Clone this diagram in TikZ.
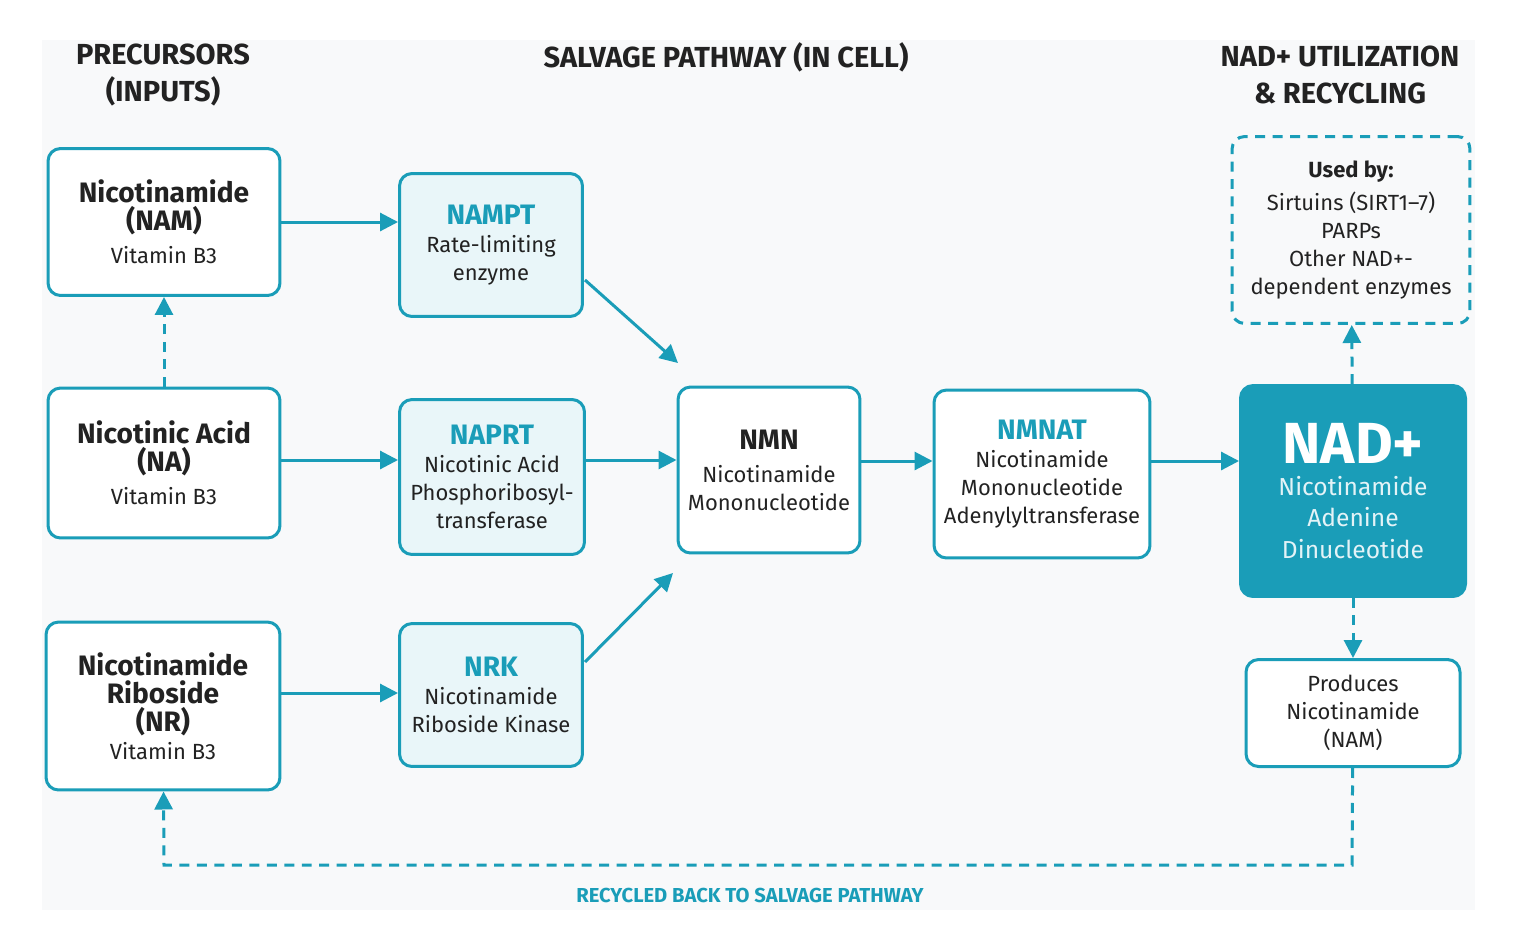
\documentclass[tikz,border=0pt]{standalone}
\usepackage{fontspec}
\setmainfont{Fira Sans}
\usetikzlibrary{arrows.meta}
\definecolor{teal1}{HTML}{1A9DB8}
\definecolor{tealbg}{HTML}{E9F6F9}
\definecolor{panel}{HTML}{F8F9FA}
\definecolor{ink}{HTML}{222222}
\newcommand{\ttl}[1]{\textbf{\fontsize{16}{20}\selectfont #1}}
\newcommand{\ttt}[1]{\textbf{\fontsize{16}{22}\selectfont\color{teal1}#1}}
\tikzset{
	box/.style={draw=teal1,line width=0.6mm,rounded corners=2.5mm,align=center,inner sep=0,text=ink,font=\fontsize{12.5}{16}\selectfont},
	enz/.style={box,fill=tealbg},
	src/.style={box,fill=white},
	arr/.style={-{Triangle[length=3.6mm,width=3.6mm]},teal1,line width=0.6mm},
	darr/.style={arr,dash pattern=on 2mm off 1.5mm},
	head/.style={font=\bfseries\fontsize{16.5}{21}\selectfont,text=ink,align=center},
}
\begin{document}
\begin{tikzpicture}[x=0.02cm,y=-0.02cm]
	\useasboundingbox (0,0) rectangle (1517,950);
	\fill[panel] (42,40) rectangle (1475,910);

	\node (h1) at (163,75) [head] {PRECURSORS\\(INPUTS)};
	\node (h2) at (726,57) [head] {SALVAGE PATHWAY (IN CELL)};
	\node (h3) at (1340,75) [head] {NAD+ UTILIZATION\\\& RECYCLING};

	\node (NAM) at (164,222) [src,minimum width=4.64cm,minimum height=2.94cm] {\ttl{Nicotinamide}\\\ttl{(NAM)}\\[1mm]Vitamin B3};
	\node (NA) at (164,463) [src,minimum width=4.64cm,minimum height=3.0cm] {\ttl{Nicotinic Acid}\\\ttl{(NA)}\\[1mm]Vitamin B3};
	\node (NR) at (163,706) [src,minimum width=4.68cm,minimum height=3.36cm] {\ttl{Nicotinamide}\\\ttl{Riboside}\\\ttl{(NR)}\\Vitamin B3};

	\node (NAMPT) at (491,245) [enz,minimum width=3.66cm,minimum height=2.86cm] {\ttt{NAMPT}\\Rate-limiting\\enzyme};
	\node (NAPRT) at (492,477) [enz,minimum width=3.7cm,minimum height=3.1cm] {\ttt{NAPRT}\\Nicotinic Acid\\Phosphoribosyl-\\transferase};
	\node (NRK) at (491,695) [enz,minimum width=3.66cm,minimum height=2.86cm] {\ttt{NRK}\\Nicotinamide\\Riboside Kinase};

	\node (NMN) at (769,470) [src,minimum width=3.64cm,minimum height=3.32cm] {\ttl{NMN}\\[1mm]Nicotinamide\\Mononucleotide};
	\node (NMNAT) at (1042,474) [src,minimum width=4.32cm,minimum height=3.36cm] {\ttt{NMNAT}\\Nicotinamide\\Mononucleotide\\Adenylyltransferase};
	\node (NAD) at (1353,491) [box,fill=teal1,draw=teal1,text=white!88!teal1,font=\fontsize{14}{18}\selectfont,minimum width=4.5cm,minimum height=4.22cm] {\textbf{\fontsize{33}{44}\selectfont\color{white}NAD+}\\Nicotinamide\\Adenine\\Dinucleotide};

	\node (used) at (1351,230) [src,dash pattern=on 2mm off 1.5mm,fill=panel,minimum width=4.76cm,minimum height=3.74cm] {\textbf{Used by:}\\[1mm]Sirtuins (SIRT1–7)\\PARPs\\Other NAD+-\\dependent enzymes};
	\node (prod) at (1353,713) [src,minimum width=4.28cm,minimum height=2.14cm] {Produces\\Nicotinamide\\(NAM)};

	\coordinate (c1) at (1352,865);
	\coordinate (c2) at (164,865);
	\coordinate (n1) at (585,280);
	\coordinate (n2) at (678,363);
	\coordinate (r1) at (585,662);
	\coordinate (r2) at (673,573);

	\draw[arr] (NAM) -- (NAMPT.west |- NAM);
	\draw[arr] (NA.east |- 0,460) -- (NAPRT.west |- 0,460);
	\draw[arr] (NR.east |- 0,693) -- (NRK.west |- 0,693);
	\draw[arr] (n1) -- (n2);
	\draw[arr] (NAPRT.east |- 0,460) -- (NMN.west |- 0,460);
	\draw[arr] (r1) -- (r2);
	\draw[arr] (NMN.east |- 0,461) -- (NMNAT.west |- 0,461);
	\draw[arr] (NMNAT.east |- 0,461) -- (NAD.west |- 0,461);
	\draw[darr] (NA) -- (NAM);
	\draw[darr] (NAD) -- (used);
	\draw[darr] (NAD) -- (prod);
	\draw[darr] (prod) -- (c1) -- (c2) -- (NR);

	\node (rec) at (750,895) [font=\bfseries\fontsize{11.5}{14}\selectfont,text=teal1] {RECYCLED BACK TO SALVAGE PATHWAY};
\end{tikzpicture}
\end{document}
